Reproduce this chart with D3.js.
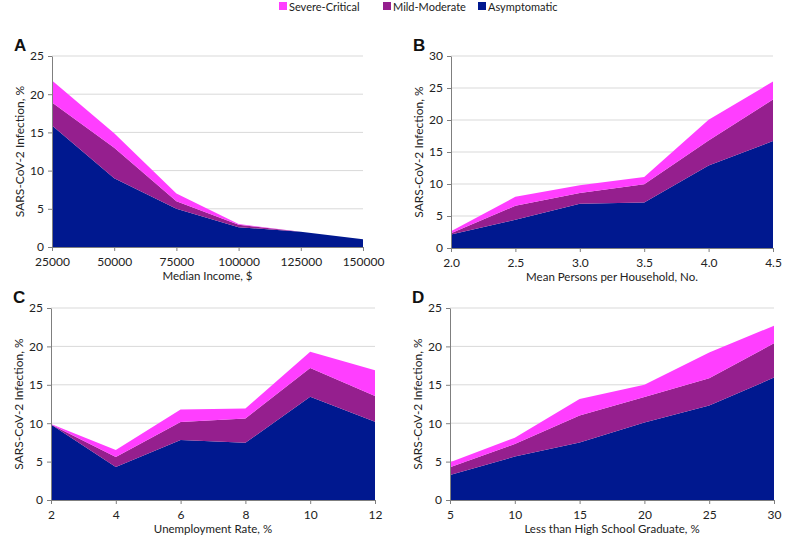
<!DOCTYPE html>
<html><head><meta charset="utf-8">
<script src="https://cdn.jsdelivr.net/npm/d3@7"></script>
<style>body{margin:0;background:#fff}svg{font-family:Lato,"Open Sans",sans-serif}</style>
</head><body><svg id="c" width="791" height="539"></svg>
<script>
const seriesNames = ["Severe-Critical","Mild-Moderate","Asymptomatic"];
const colors = {"Asymptomatic":"#00188F","Mild-Moderate":"#951F8E","Severe-Critical":"#FF3EFF"};

const incomeX = [25000,50000,75000,100000,125000,150000];
const incomeAsym = [15.9,9.0,5.0,2.6,2.0,1.0];
const incomeMild = [3.0,4.0,1.0,0.3,0,0];
const incomeSevere = [2.9,1.9,1.0,0.1,0,0];

const householdX = [2.0,2.5,3.0,3.5,4.0,4.5];
const householdAsym = [2.1,4.4,6.9,7.1,12.9,16.7];
const householdMild = [0.2,2.2,1.7,2.85,3.9,6.5];
const householdSevere = [0.3,1.4,1.2,1.15,3.25,2.8];

const unempX = [2,4,6,8,10,12];
const unempAsym = [9.84,4.3,7.8,7.45,13.45,10.2];
const unempMild = [0,1.3,2.35,3.15,3.75,3.35];
const unempSevere = [0.06,0.9,1.65,1.3,2.1,3.35];

const eduX = [5,10,15,20,25,30];
const eduAsym = [3.27,5.66,7.5,10.1,12.3,15.94];
const eduMild = [1.0,1.64,3.5,3.3,3.55,4.46];
const eduSevere = [0.63,0.8,2.15,1.6,3.35,2.3];

const panels = [
  {label:"A", x:incomeX, asym:incomeAsym, mild:incomeMild, sev:incomeSevere, ymax:25, xLabel:"Median Income, $", fmt:d=>d,
   left:52, right:363, top:56, bottom:247},
  {label:"B", x:householdX, asym:householdAsym, mild:householdMild, sev:householdSevere, ymax:30, xLabel:"Mean Persons per Household, No.", fmt:d3.format(".1f"),
   left:451, right:773, top:56, bottom:248},
  {label:"C", x:unempX, asym:unempAsym, mild:unempMild, sev:unempSevere, ymax:25, xLabel:"Unemployment Rate, %", fmt:d=>d,
   left:51, right:375, top:308, bottom:500},
  {label:"D", x:eduX, asym:eduAsym, mild:eduMild, sev:eduSevere, ymax:25, xLabel:"Less than High School Graduate, %", fmt:d=>d,
   left:450, right:774, top:308, bottom:500}
];

const svg = d3.select("#c");

// legend
const legendItems = [{n:"Severe-Critical",x:279},{n:"Mild-Moderate",x:383},{n:"Asymptomatic",x:478}];
legendItems.forEach(it=>{
  svg.append("rect").attr("x",it.x).attr("y",2).attr("width",8).attr("height",8).attr("fill",colors[it.n]);
  svg.append("text").attr("x",it.x+10).attr("y",10.5).attr("font-size",11).attr("fill","#222").text(it.n);
});

panels.forEach(p=>{
  const g = svg.append("g");
  const x = d3.scaleLinear().domain(d3.extent(p.x)).range([p.left,p.right]);
  const y = d3.scaleLinear().domain([0,p.ymax]).range([p.bottom,p.top]);
  const ticks = d3.range(0,p.ymax+0.1,5);
  // gridlines
  g.selectAll(".grid").data(ticks.filter(t=>t>0)).join("line")
    .attr("x1",p.left).attr("x2",p.right).attr("y1",d=>y(d)).attr("y2",d=>y(d))
    .attr("stroke","#d9d9d9").attr("stroke-width",1);
  // stack
  const rows = p.x.map((xv,i)=>({x:xv,"Asymptomatic":p.asym[i],"Mild-Moderate":p.mild[i],"Severe-Critical":p.sev[i]}));
  const stack = d3.stack().keys(["Asymptomatic","Mild-Moderate","Severe-Critical"])(rows);
  const area = d3.area().x(d=>x(d.data.x)).y0(d=>y(d[0])).y1(d=>y(d[1]));
  g.selectAll(".area").data(stack).join("path")
    .attr("d",area).attr("fill",d=>colors[d.key]);
  // y axis
  const ya = g.append("g").attr("transform",`translate(${p.left},0)`)
    .call(d3.axisLeft(y).tickValues(ticks).tickSize(4).tickSizeOuter(0).tickPadding(4));
  ya.select(".domain").attr("stroke","#7f7f7f");
  ya.selectAll(".tick line").attr("stroke","#7f7f7f");
  ya.selectAll("text").attr("font-size",12).attr("fill","#222").attr("font-family","Lato,sans-serif");
  // x axis
  const xa = g.append("g").attr("transform",`translate(0,${p.bottom})`)
    .call(d3.axisBottom(x).tickValues(p.x).tickFormat(p.fmt).tickSize(4).tickSizeOuter(0).tickPadding(6));
  xa.select(".domain").attr("stroke","#7f7f7f");
  xa.selectAll(".tick line").attr("stroke","#7f7f7f");
  xa.selectAll("text").attr("font-size",12).attr("fill","#222").attr("font-family","Lato,sans-serif");
  // labels
  g.append("text").attr("x",(p.left+p.right)/2).attr("y",p.bottom+33).attr("text-anchor","middle")
    .attr("font-size",11.5).attr("fill","#222").text(p.xLabel);
  g.append("text").attr("transform",`translate(${p.left-28},${(p.top+p.bottom)/2}) rotate(-90)`)
    .attr("text-anchor","middle").attr("font-size",12).attr("fill","#222").text("SARS-CoV-2 Infection, %");
  g.append("text").attr("x",p.left-38).attr("y",p.top-5).attr("font-size",17).attr("font-weight","bold")
    .attr("fill","#111").attr("font-family","Liberation Sans,Arial,sans-serif").text(p.label);
});
</script></body></html>
